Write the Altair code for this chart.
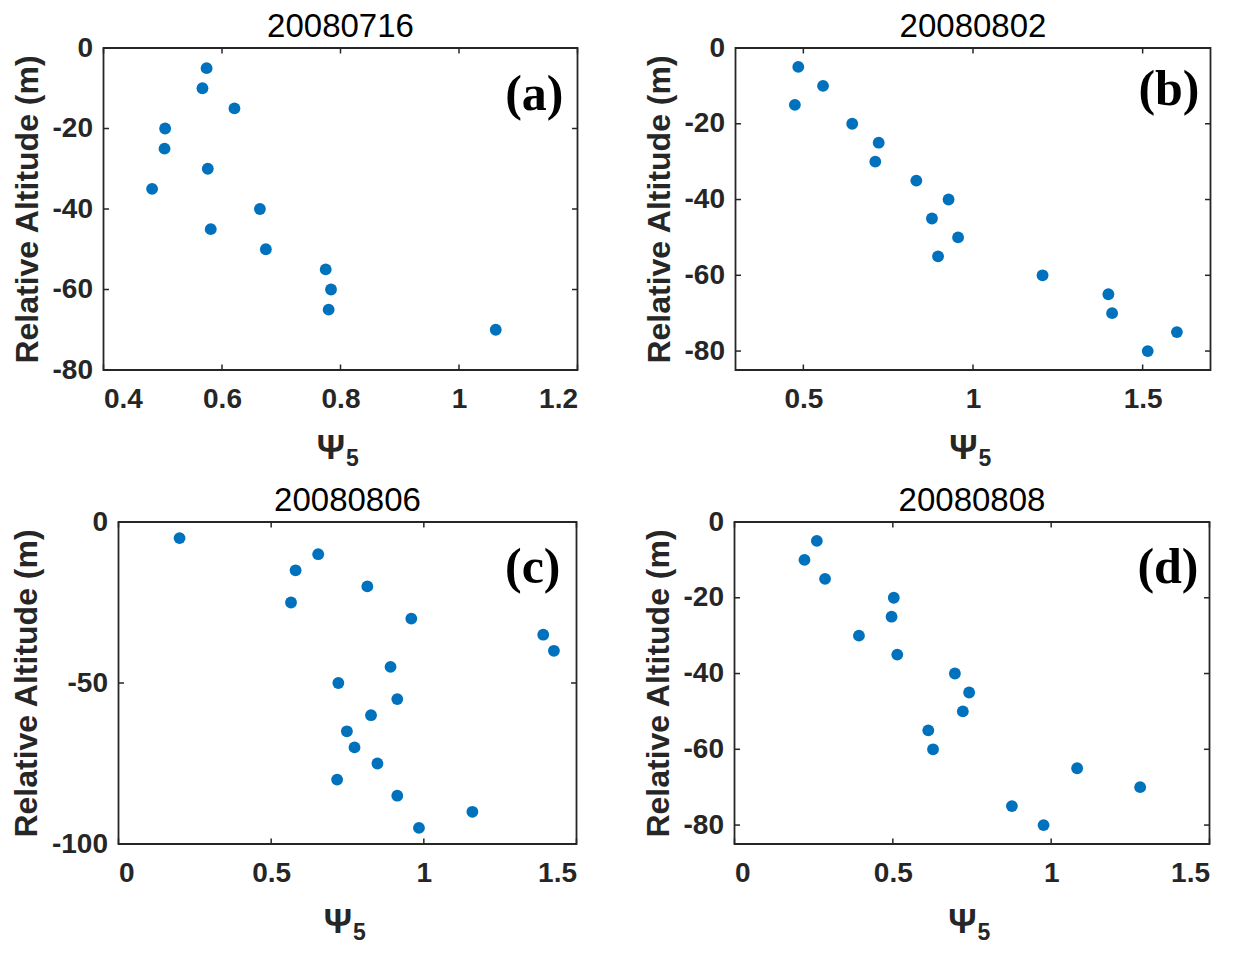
import altair as alt
import pandas as pd

BLUE = "#0072BD"
INK = "#262626"
SANS = "Liberation Sans"
HEIGHT = 322
TICK = 5.5

# relative altitude (m) and psi_5
ALT_A = [-5, -10, -15, -20, -25, -30, -35, -40, -45, -50, -55, -60, -65, -70]
PSI_A = [0.574, 0.567, 0.621, 0.504, 0.503, 0.576, 0.482, 0.664, 0.581, 0.674,
         0.775, 0.784, 0.780, 1.062]

ALT_B = [-5, -10, -15, -20, -25, -30, -35, -40, -45, -50, -55, -60, -65, -70,
         -75, -80]
PSI_B = [0.485, 0.558, 0.475, 0.644, 0.722, 0.712, 0.833, 0.928, 0.879, 0.956,
         0.897, 1.205, 1.399, 1.410, 1.601, 1.515]

ALT_C = [-5, -10, -15, -20, -25, -30, -35, -40, -45, -50, -55, -60, -65, -70,
         -75, -80, -85, -90, -95]
PSI_C = [0.200, 0.654, 0.580, 0.815, 0.565, 0.959, 1.391, 1.426, 0.891, 0.720,
         0.913, 0.827, 0.748, 0.773, 0.848, 0.716, 0.913, 1.159, 0.984]

ALT_D = [-5, -10, -15, -20, -25, -30, -35, -40, -45, -50, -55, -60, -65, -70,
         -75, -80]
PSI_D = [0.260, 0.221, 0.286, 0.503, 0.496, 0.393, 0.514, 0.696, 0.741, 0.721,
         0.612, 0.627, 1.082, 1.281, 0.876, 0.976]

DATES = ["20080716", "20080802", "20080806", "20080808"]
TAGS = ["(a)", "(b)", "(c)", "(d)"]


def panel(psi, depth, date, tag, xdom, xticks, ydom, yticks, width, tag_dx, tag_dy):
    pts = pd.DataFrame({"psi": psi, "v": depth})
    xt = pd.DataFrame({"psi": xticks})
    yt = pd.DataFrame({"v": yticks})

    xs = alt.Scale(domain=xdom, nice=False, zero=False)
    ys = alt.Scale(domain=ydom, nice=False, zero=False)
    # axis title is the Psi; its subscript 5 is a separate text layer below
    xaxis = alt.Axis(values=xticks, labelExpr="'' + datum.value", labelPadding=15.5,
                     titleX=width / 2 - 10, titleY=88, titleAlign="center",
                     titleBaseline="alphabetic", titleFontSize=35)
    yaxis = alt.Axis(values=yticks, labelExpr="'' + datum.value",
                     labelPadding=11, titlePadding=8)
    X = alt.X("psi:Q", scale=xs, title="Ψ", axis=xaxis)
    Y = alt.Y("v:Q", scale=ys, title="Relative Altitude (m)", axis=yaxis)

    dots = alt.Chart(pts).mark_circle(size=140, color=BLUE, opacity=1).encode(x=X, y=Y)

    # MATLAB-style inward ticks on all four sides
    rule = dict(color=INK, strokeWidth=1.5)
    bottom = alt.Chart(xt).mark_rule(**rule).encode(
        x=X, y=alt.value(HEIGHT), y2=alt.value(HEIGHT - TICK))
    top = alt.Chart(xt).mark_rule(**rule).encode(
        x=X, y=alt.value(0), y2=alt.value(TICK))
    left = alt.Chart(yt).mark_rule(**rule).encode(
        y=Y, x=alt.value(0), x2=alt.value(TICK))
    right = alt.Chart(yt).mark_rule(**rule).encode(
        y=Y, x=alt.value(width), x2=alt.value(width - TICK))

    label = alt.Chart(pd.DataFrame({"tag": [tag]})).mark_text(
        font="Liberation Serif", fontSize=50, fontWeight="bold",
        align="right", baseline="middle", color="black"
    ).encode(x=alt.value(width - tag_dx), y=alt.value(tag_dy), text="tag:N")

    sub = alt.Chart(pd.DataFrame({"s": ["5"]})).mark_text(
        font=SANS, fontSize=23, fontWeight="bold", align="center",
        baseline="alphabetic", color=INK
    ).encode(x=alt.value(width / 2 + 12), y=alt.value(HEIGHT + 96), text="s:N")

    return alt.layer(dots, bottom, top, left, right, label, sub).properties(
        width=width, height=HEIGHT,
        title=alt.TitleParams(date, font=SANS, fontSize=33, fontWeight="normal",
                              color="black", anchor="middle", frame="group",
                              baseline="alphabetic", offset=-35.5),
    )


def spacer():
    # empty 1px cell so each row is packed by its full bounds, like MATLAB
    return alt.Chart(pd.DataFrame({"s": [0]})).mark_point(opacity=0, size=0).encode(
        x=alt.value(0), y=alt.value(0)
    ).properties(width=1, height=1, view=alt.ViewBackground(stroke="transparent"))


a = panel(PSI_A, ALT_A, DATES[0], TAGS[0], [0.4, 1.2], [0.4, 0.6, 0.8, 1.0, 1.2],
          [-80, 0], [0, -20, -40, -60, -80], 474, 14, 47)
b = panel(PSI_B, ALT_B, DATES[1], TAGS[1], [0.3, 1.7], [0.5, 1.0, 1.5],
          [-85, 0], [0, -20, -40, -60, -80], 475, 11, 42)
c = panel(PSI_C, ALT_C, DATES[2], TAGS[2], [0, 1.5], [0, 0.5, 1.0, 1.5],
          [-100, 0], [0, -50, -100], 458, 16, 46)
d = panel(PSI_D, ALT_D, DATES[3], TAGS[3], [0, 1.5], [0, 0.5, 1.0, 1.5],
          [-85, 0], [0, -20, -40, -60, -80], 475, 11, 46)

top_row = alt.hconcat(spacer(), alt.hconcat(a, b, spacing=62), spacing=-1.5)
bottom_row = alt.hconcat(spacer(), alt.hconcat(c, d, spacing=62), spacing=-1.5)

chart = alt.vconcat(top_row, bottom_row, spacing=11).properties(
    padding={"left": 0, "top": 1, "right": 0, "bottom": 0}
).configure_view(
    stroke=INK, strokeWidth=1.8
).configure_axis(
    grid=False, domain=False, ticks=False, tickSize=0,
    labelFont=SANS, labelFontSize=28, labelFontWeight="bold", labelColor=INK,
    titleFont=SANS, titleFontSize=32, titleFontWeight="bold", titleColor=INK,
)

chart.save("out.html", embed_options={"renderer": "svg", "actions": False})
